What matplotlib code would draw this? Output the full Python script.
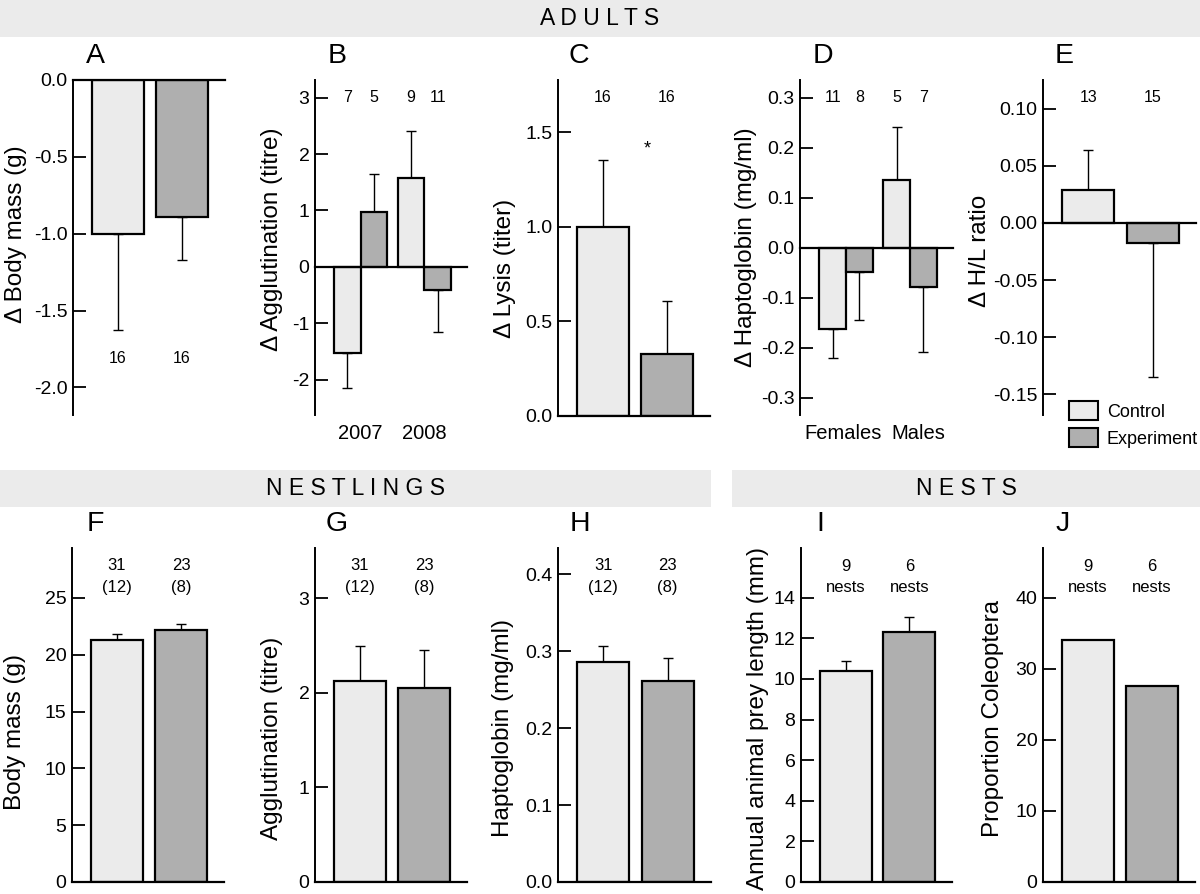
import matplotlib
matplotlib.use("Agg")
import matplotlib.pyplot as plt
from matplotlib.patches import Rectangle, Patch

plt.rcParams['font.family'] = ['Liberation Sans', 'DejaVu Sans']
plt.rcParams['axes.unicode_minus'] = False

W, H = 1200, 894
CONTROL = '#ebebeb'
EXPERIMENT = '#afafaf'
HEADER = '#ebebeb'

groups = ['Control', 'Experiment']

# A - adults, change in body mass
bodymass_delta = [-1.00, -0.89]
bodymass_delta_se = [0.63, 0.28]
bodymass_delta_n = ['16', '16']

# B - adults, change in agglutination by year (control, experiment per year)
years = ['2007', '2008']
aggl_delta = [-1.52, 0.97, 1.57, -0.40]
aggl_delta_se = [0.63, 0.68, 0.83, 0.75]
aggl_delta_n = ['7', '5', '9', '11']

# C - adults, change in lysis
lysis_delta = [1.00, 0.33]
lysis_delta_se = [0.35, 0.28]
lysis_delta_n = ['16', '16']

# D - adults, change in haptoglobin by sex
sexes = ['Females', 'Males']
hapto_delta = [-0.162, -0.048, 0.136, -0.078]
hapto_delta_se = [0.058, 0.096, 0.106, 0.130]
hapto_delta_n = ['11', '8', '5', '7']

# E - adults, change in H/L ratio
hl_delta = [0.029, -0.018]
hl_delta_se = [0.035, 0.117]
hl_delta_n = ['13', '15']

# F, G, H - nestlings
nestling_n = ['31', '23']
nestling_broods = ['(12)', '(8)']
nest_bodymass = [21.3, 22.2]
nest_bodymass_se = [0.5, 0.5]
nest_aggl = [2.12, 2.05]
nest_aggl_se = [0.37, 0.40]
nest_hapto = [0.286, 0.261]
nest_hapto_se = [0.021, 0.030]

# I, J - nests
nests_n = ['9', '6']
prey_length = [10.4, 12.3]
prey_length_se = [0.5, 0.75]
coleoptera = [34.1, 27.6]

colors2 = [CONTROL, EXPERIMENT]
colors4 = [CONTROL, EXPERIMENT, CONTROL, EXPERIMENT]
x2 = [0, 1]
x4 = [0, 1, 2.4, 3.4]

fig = plt.figure(figsize=(W / 100, H / 100), dpi=100)


def px_axes(x0, y0, x1, y1):
    return fig.add_axes([x0 / W, 1 - y1 / H, (x1 - x0) / W, (y1 - y0) / H])


def style(ax, ylim, ticks, fmt, ylabel, lab_off, lab_y, xlim):
    ax.set_xlim(*xlim)
    ax.set_ylim(*ylim)
    ax.set_yticks(ticks)
    ax.set_yticklabels([fmt.format(t) for t in ticks])
    for s in ['top', 'right', 'bottom']:
        ax.spines[s].set_visible(False)
    ax.spines['left'].set_linewidth(1.4)
    ax.set_xticks([])
    ax.tick_params(axis='y', direction='in', length=9, width=1.3, pad=4, labelsize=14)
    ax.axhline(0, color='black', lw=1.6, clip_on=False, zorder=3)
    ax.set_ylabel(ylabel, fontsize=17.5)
    ax.yaxis.label.set_va('center')
    ax.yaxis.set_label_coords(-lab_off / 152, lab_y)
    ax.patch.set_visible(False)


def bars(ax, x, vals, se, colors, width):
    ax.bar(x, vals, width, color=colors, edgecolor='black', linewidth=1.6, zorder=2)
    if se is not None:
        lo = [s if v < 0 else 0 for v, s in zip(vals, se)]
        hi = [s if v >= 0 else 0 for v, s in zip(vals, se)]
        ax.errorbar(x, vals, yerr=[lo, hi], fmt='none', ecolor='black',
                    elinewidth=1.0, capsize=3.6, capthick=1.0, zorder=1)


def ntext(ax, x, labels, yfrac, size=11.5):
    tr = ax.get_xaxis_transform()
    for xi, t in zip(x, labels):
        ax.text(xi, yfrac, t, transform=tr, ha='center', va='center', fontsize=size)


XL2 = (-0.703, 1.672)
XL4 = (-1.226, 4.51)

# header bands
for (x0, y0, x1, y1, txt) in [(0, 0, 1200, 37, 'A D U L T S'),
                               (0, 470, 711, 507, 'N E S T L I N G S'),
                               (732, 470, 1200, 507, 'N E S T S')]:
    fig.add_artist(Rectangle((x0 / W, 1 - y1 / H), (x1 - x0) / W, (y1 - y0) / H,
                             transform=fig.transFigure, facecolor=HEADER, edgecolor='none'))
    fig.text((x0 + x1) / 2 / W, 1 - (y0 + y1) / 2 / H, txt, ha='center', va='center', fontsize=16.5)

# panel letters
for lab, x, y in [('A', 95, 56), ('B', 337, 56), ('C', 579, 56), ('D', 823, 56), ('E', 1064, 56),
                  ('F', 95, 524), ('G', 337, 524), ('H', 580, 524), ('I', 820, 524), ('J', 1063, 524)]:
    fig.text(x / W, 1 - y / H, lab, ha='center', va='center', fontsize=20.5)

# A
ax = px_axes(73, 80, 225, 415)
bars(ax, x2, bodymass_delta, bodymass_delta_se, colors2, 0.8125)
style(ax, (-2.18, 0), [0, -0.5, -1.0, -1.5, -2.0], '{:.1f}', '\u0394 Body mass (g)', 57, 0.54, XL2)
ntext(ax, x2, bodymass_delta_n, 0.17)

# B
ax = px_axes(315, 80, 467, 415)
bars(ax, x4, aggl_delta, aggl_delta_se, colors4, 1.0)
style(ax, (-2.62, 3.31), [-2, -1, 0, 1, 2, 3], '{:d}', '\u0394 Agglutination (titre)', 43, 0.525, XL4)
ntext(ax, x4, aggl_delta_n, 0.949)
tr = ax.get_xaxis_transform()
for xi, t in zip([0.5, 2.9], years):
    ax.text(xi, -0.054, t, transform=tr, ha='center', va='center', fontsize=14.5)

# C
ax = px_axes(558, 80, 710, 416)
bars(ax, x2, lysis_delta, lysis_delta_se, colors2, 0.8125)
style(ax, (0, 1.775), [0, 0.5, 1.0, 1.5], '{:.1f}', '\u0394 Lysis (titer)', 53, 0.44, XL2)
ntext(ax, x2, lysis_delta_n, 0.949)
ax.text(0.69, 1.41, '*', ha='center', va='center', fontsize=13)

# D
ax = px_axes(800, 80, 953, 415)
bars(ax, x4, hapto_delta, hapto_delta_se, colors4, 1.0)
style(ax, (-0.334, 0.336), [-0.3, -0.2, -0.1, 0.0, 0.1, 0.2, 0.3], '{:.1f}',
      '\u0394 Haptoglobin (mg/ml)', 54, 0.5, XL4)
ntext(ax, x4, hapto_delta_n, 0.949)
tr = ax.get_xaxis_transform()
for xi, t in zip([0.4, 3.2], sexes):
    ax.text(xi, -0.054, t, transform=tr, ha='center', va='center', fontsize=14.5)

# E
ax = px_axes(1043, 80, 1196, 415)
bars(ax, x2, hl_delta, hl_delta_se, colors2, 0.8125)
style(ax, (-0.168, 0.125), [-0.15, -0.10, -0.05, 0.0, 0.05, 0.10], '{:.2f}',
      '\u0394 H/L ratio', 63, 0.49, XL2)
ntext(ax, x2, hl_delta_n, 0.949)

# legend
handles = [Patch(facecolor=c, edgecolor='black', linewidth=1.5) for c in colors2]
fig.legend(handles, groups, loc='upper left', bbox_to_anchor=(1069 / W, 1 - 401 / H),
           frameon=False, fontsize=13, handlelength=1.6, handleheight=1.28,
           handletextpad=0.5, labelspacing=0.39, borderpad=0, borderaxespad=0)

# F
ax = px_axes(72, 548, 224, 882)
bars(ax, x2, nest_bodymass, nest_bodymass_se, colors2, 0.8125)
style(ax, (0, 29.4), [0, 5, 10, 15, 20, 25], '{:d}', 'Body mass (g)', 57, 0.45, XL2)
ntext(ax, x2, nestling_n, 0.949, 12)
ntext(ax, x2, nestling_broods, 0.883, 12)

# G
ax = px_axes(315, 548, 467, 882)
bars(ax, x2, nest_aggl, nest_aggl_se, colors2, 0.8125)
style(ax, (0, 3.53), [0, 1, 2, 3], '{:d}', 'Agglutination (titre)', 43, 0.43, XL2)
ntext(ax, x2, nestling_n, 0.949, 12)
ntext(ax, x2, nestling_broods, 0.883, 12)

# H
ax = px_axes(558, 548, 711, 882)
bars(ax, x2, nest_hapto, nest_hapto_se, colors2, 0.8125)
style(ax, (0, 0.434), [0, 0.1, 0.2, 0.3, 0.4], '{:.1f}', 'Haptoglobin (mg/ml)', 55, 0.46, XL2)
ntext(ax, x2, nestling_n, 0.949, 12)
ntext(ax, x2, nestling_broods, 0.883, 12)

# I
ax = px_axes(801, 548, 952, 882)
bars(ax, x2, prey_length, prey_length_se, colors2, 0.8125)
style(ax, (0, 16.45), [0, 2, 4, 6, 8, 10, 12, 14], '{:d}', 'Annual animal prey length (mm)', 43, 0.49, XL2)
ntext(ax, x2, nests_n, 0.946, 12)
ntext(ax, x2, ['nests', 'nests'], 0.883, 12)

# J
ax = px_axes(1043, 548, 1195, 882)
bars(ax, x2, coleoptera, None, colors2, 0.8125)
style(ax, (0, 47.0), [0, 10, 20, 30, 40], '{:d}', 'Proportion Coleoptera', 50, 0.49, XL2)
ntext(ax, x2, nests_n, 0.946, 12)
ntext(ax, x2, ['nests', 'nests'], 0.883, 12)

fig.savefig('out.png', dpi=100)
